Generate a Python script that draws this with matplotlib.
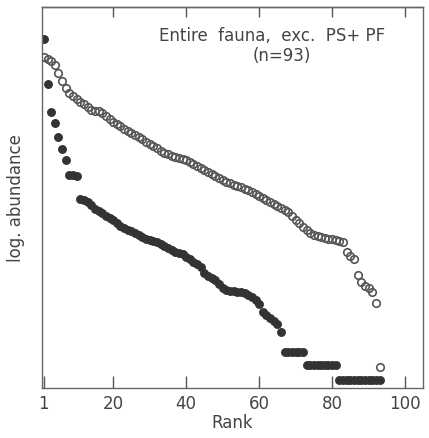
import numpy as np
import matplotlib
matplotlib.use("Agg")
import matplotlib.pyplot as plt

# log abundance by rank (arbitrary log units)
open_vals = [3.31, 3.29, 3.27, 3.23, 3.15, 3.07, 3.00, 2.95, 2.92, 2.89,
             2.86, 2.84, 2.81, 2.78, 2.77, 2.77, 2.75, 2.72, 2.69, 2.66,
             2.64, 2.62, 2.59, 2.57, 2.55, 2.53, 2.51, 2.49, 2.46, 2.44,
             2.42, 2.40, 2.37, 2.35, 2.34, 2.32, 2.31, 2.30, 2.29, 2.28,
             2.26, 2.24, 2.22, 2.20, 2.18, 2.16, 2.14, 2.12, 2.10, 2.08,
             2.06, 2.05, 2.03, 2.02, 2.01, 1.99, 1.98, 1.96, 1.94, 1.92,
             1.90, 1.88, 1.86, 1.84, 1.82, 1.80, 1.78, 1.76, 1.72, 1.68,
             1.65, 1.61, 1.58, 1.55, 1.53, 1.52, 1.51, 1.50, 1.49, 1.49,
             1.48, 1.47, 1.46, 1.36, 1.32, 1.29, 1.13, 1.06, 1.02, 1.00,
             0.96, 0.85, 0.21]

filled_vals = [3.49, 3.04, 2.76, 2.65, 2.51, 2.39, 2.28, 2.13, 2.13, 2.12,
               1.89, 1.88, 1.86, 1.83, 1.79, 1.77, 1.75, 1.72, 1.70, 1.68,
               1.65, 1.62, 1.60, 1.58, 1.57, 1.55, 1.53, 1.51, 1.49, 1.48,
               1.47, 1.46, 1.44, 1.42, 1.40, 1.38, 1.36, 1.35, 1.34, 1.31,
               1.29, 1.26, 1.24, 1.21, 1.15, 1.12, 1.10, 1.08, 1.04, 1.00,
               0.98, 0.97, 0.97, 0.96, 0.96, 0.95, 0.93, 0.91, 0.88, 0.84,
               0.76, 0.73, 0.70, 0.67, 0.64, 0.56] + [0.36] * 6 + [0.23] * 9 + [0.08] * 12

xticks = [1, 20, 40, 60, 80, 100]
top_ticks = [20, 40, 60, 80, 100]

rank_open = np.arange(1, len(open_vals) + 1)
rank_filled = np.arange(1, len(filled_vals) + 1)

fig = plt.figure(figsize=(4.29, 4.39), dpi=100)
ax = fig.add_axes([0.098, 0.114, 0.888, 0.868])

ax.plot(rank_filled, filled_vals, 'o', ms=5.4, color='#333333', mec='#333333', zorder=2)
ax.plot(rank_open, open_vals, 'o', ms=5.4, mfc='none', mec='#555555', mew=1.2, zorder=3)

ax.set_xlim(0.5, 104.9)
ax.set_ylim(0, 3.81)
ax.set_xticks(xticks)
ax.set_yticks([])
ax.tick_params(axis='x', direction='in', length=9, width=1, colors='#555555',
               labelsize=12, labelcolor='#444444', pad=4)
top = ax.secondary_xaxis('top')
top.set_xticks(top_ticks)
top.tick_params(direction='in', length=7, width=1, colors='#555555', labeltop=False)
for sp in list(ax.spines.values()) + list(top.spines.values()):
    sp.set_color('#666666')
    sp.set_linewidth(1.0)

ax.set_xlabel('Rank', fontsize=12, color='#444444', labelpad=1)
ax.set_ylabel('log. abundance', fontsize=12, color='#444444', labelpad=12)

ax.text(0.605, 0.925, 'Entire  fauna,  exc.  PS+ PF', transform=ax.transAxes,
        ha='center', va='center', fontsize=12, color='#444444')
ax.text(0.63, 0.875, '(n=93)', transform=ax.transAxes,
        ha='center', va='center', fontsize=12, color='#444444')

fig.savefig('out.png', dpi=100)
